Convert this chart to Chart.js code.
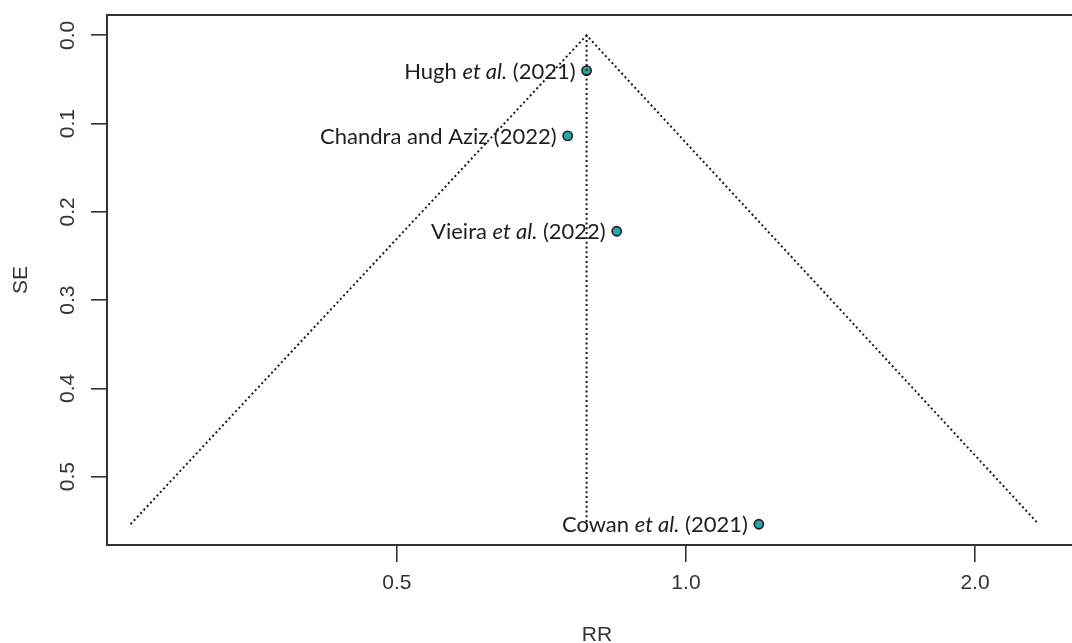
<!DOCTYPE html>
<html>
<head>
<meta charset="utf-8">
<script src="https://cdn.jsdelivr.net/npm/chart.js@4.4.1/dist/chart.umd.min.js"></script>
<style>
  html, body { margin:0; padding:0; background:#fff; overflow:hidden; }
  #wrap { width:1072px; height:643px; overflow:hidden; }
</style>
</head>
<body>
<div id="wrap"><canvas id="chart" width="1100" height="643" style="width:1100px;height:643px"></canvas></div>
<script>
/* data */
const studies = ["Hugh et al. (2021)", "Chandra and Aziz (2022)", "Vieira et al. (2022)", "Cowan et al. (2021)"];
const rr = [0.788, 0.753, 0.847, 1.191];
const se = [0.040, 0.114, 0.222, 0.554];
const pooledRR = 0.788;
const funnelRR = [0.264, 0.788, 2.33];
const funnelSE = [0.554, 0, 0.554];
const xTicks = [0.5, 1.0, 2.0];
const yTicks = [0, 0.1, 0.2, 0.3, 0.4, 0.5];

const ink = "#333";
const tickFont = {family:"Liberation Sans", size:21};

/* box round the plot + rotated y labels + study labels */
const extras = {
  id:"extras",
  afterDatasetsDraw(chart){
    const c = chart.ctx;
    const meta = chart.getDatasetMeta(2);
    c.save();
    c.fillStyle = "#1e1e1e";
    c.textBaseline = "middle";
    meta.data.forEach((pt, i)=>{
      const parts = studies[i].split(/(et al\.)/).filter(s=>s);
      const fonts = parts.map(p=> (p==="et al." ? "italic " : "") + "22px Lato");
      let w = 0;
      parts.forEach((p,k)=>{ c.font = fonts[k]; w += c.measureText(p).width; });
      let x = pt.x - 11 - w;
      parts.forEach((p,k)=>{
        c.font = fonts[k];
        c.textAlign = "left";
        c.fillText(p, x, pt.y + 1);
        x += c.measureText(p).width;
      });
    });
    c.restore();
  },
  afterDraw(chart){
    const c = chart.ctx, a = chart.chartArea;
    c.save();
    c.strokeStyle = ink;
    c.lineWidth = 2;
    c.strokeRect(a.left, a.top, a.right - a.left, a.bottom - a.top);

    const ys = chart.scales.y;
    c.fillStyle = ink;
    c.font = "21px 'Liberation Sans'";
    c.textAlign = "center";
    c.textBaseline = "middle";
    ys.ticks.forEach(t=>{
      const py = ys.getPixelForValue(t.value);
      c.save();
      c.translate(68, py);
      c.rotate(-Math.PI/2);
      c.fillText(t.value.toFixed(1), 0, 0);
      c.restore();
    });
    c.restore();
  }
};

const line = (xs, ys)=>xs.map((x,i)=>({x, y:ys[i]}));

new Chart(document.getElementById("chart"), {
  type:"scatter",
  data:{
    datasets:[
      {
        data: line(funnelRR, funnelSE),
        showLine:true, borderColor:"#1a1a1a", borderWidth:2, borderDash:[2,2.8],
        pointRadius:0, fill:false, tension:0
      },
      {
        data: line([pooledRR, pooledRR], [0, funnelSE[0]]),
        showLine:true, borderColor:"#1a1a1a", borderWidth:2, borderDash:[2,2.8],
        pointRadius:0, fill:false
      },
      {
        data: line(rr, se),
        pointRadius:4.6, pointBackgroundColor:"#2ba6a6",
        pointBorderColor:"#1e1e1e", pointBorderWidth:1.6
      }
    ]
  },
  options:{
    responsive:false,
    animation:false,
    layout:{padding:{left:0, top:15, right:13, bottom:0}},
    plugins:{legend:{display:false}, tooltip:{enabled:false}},
    scales:{
      x:{
        type:"logarithmic",
        min:0.2495, max:2.616,
        afterBuildTicks: s=>{ s.ticks = xTicks.map(v=>({value:v})); },
        afterFit: s=>{ s.height = 98; },
        ticks:{
          autoSkip:false, maxRotation:0, minRotation:0,
          padding:9, color:ink, font:tickFont,
          callback: v=>Number(v).toFixed(1)
        },
        grid:{drawOnChartArea:false, drawTicks:true, tickLength:17, color:ink, lineWidth:1.6},
        border:{display:false},
        title:{display:true, text:"RR", color:ink, font:tickFont, padding:{top:0, bottom:-5}}
      },
      y:{
        type:"linear",
        reverse:true,
        min:-0.023, max:0.5775,
        afterBuildTicks: s=>{ s.ticks = yTicks.map(v=>({value:v})); },
        afterFit: s=>{ s.width = 107; },
        ticks:{display:false},
        grid:{drawOnChartArea:false, drawTicks:true, tickLength:16, color:ink, lineWidth:1.6},
        border:{display:false},
        title:{display:true, text:"SE", color:ink, font:tickFont, padding:{top:9, bottom:0}}
      }
    }
  },
  plugins:[extras]
});
</script>
</body>
</html>
